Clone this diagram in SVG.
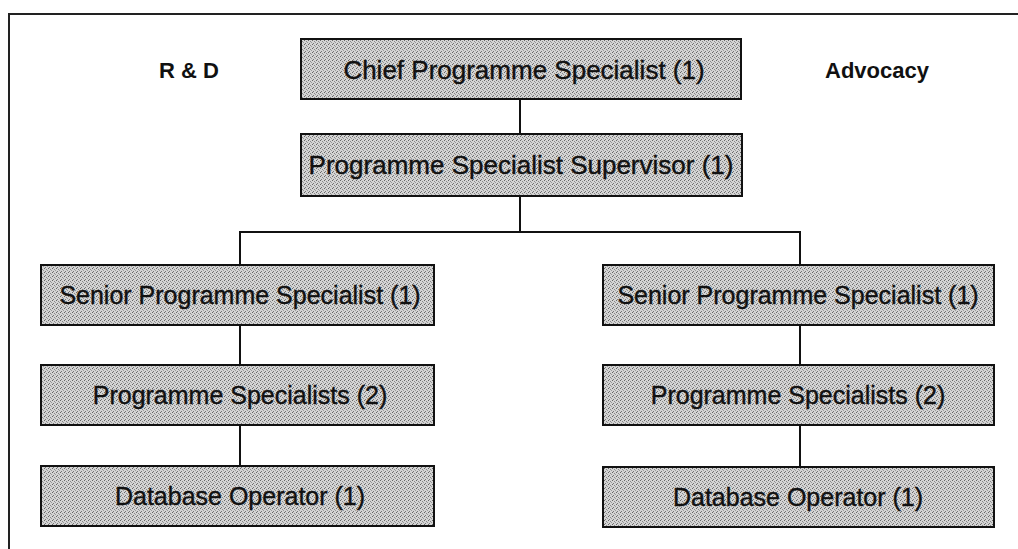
<svg xmlns="http://www.w3.org/2000/svg" width="1018" height="549" viewBox="0 0 1018 549">
  <defs>
    <pattern id="stip" width="4" height="4" patternUnits="userSpaceOnUse">
      <rect width="4" height="4" fill="#d4d4d4"/>
      <rect x="0" y="0" width="1" height="1" fill="#666"/>
      <rect x="2" y="1" width="1" height="1" fill="#888"/>
      <rect x="1" y="3" width="1" height="1" fill="#777"/>
      <rect x="3" y="2" width="1" height="1" fill="#999"/>
    </pattern>
  </defs>
  <style>
    .box { fill: url(#stip); stroke: #111; stroke-width: 2; }
    .t { font-family: "Liberation Sans", Arial, sans-serif; fill: #111; stroke: #111; stroke-width: 0.4; text-anchor: middle; }
    .t1 { font-size: 26px; }
    .t2 { font-size: 25px; }
    .lbl { font-family: "Liberation Sans", Arial, sans-serif; font-weight: bold; font-size: 22px; fill: #111; text-anchor: middle; }
    .ln { stroke: #111; stroke-width: 2; fill: none; }
    .frame { stroke: #222; stroke-width: 2; fill: none; }
  </style>
  <rect width="1018" height="549" fill="#ffffff"/>
  <g id="frame">
    <path class="frame" d="M9,549 V14 H1018"/>
  </g>
  <g id="labels">
    <text class="lbl" x="189" y="78">R &amp; D</text>
    <text class="lbl" x="877" y="78">Advocacy</text>
  </g>
  <g id="connectors">
    <path class="ln" d="M520,99 V134"/>
    <path class="ln" d="M520,196 V232"/>
    <path class="ln" d="M240,265 V232 H800 V265"/>
    <path class="ln" d="M240,325 V365"/>
    <path class="ln" d="M240,425 V466"/>
    <path class="ln" d="M800,325 V365"/>
    <path class="ln" d="M800,425 V467"/>
  </g>
  <g id="chief">
    <rect class="box" x="301" y="39" width="440" height="60"/>
    <text class="t t1" x="524" y="79">Chief Programme Specialist (1)</text>
  </g>
  <g id="supervisor">
    <rect class="box" x="301" y="134" width="441" height="62"/>
    <text class="t t1" x="521" y="174">Programme Specialist Supervisor (1)</text>
  </g>
  <g id="rd-senior">
    <rect class="box" x="41" y="265" width="393" height="60"/>
    <text class="t t2" x="240" y="304">Senior Programme Specialist (1)</text>
  </g>
  <g id="rd-specialists">
    <rect class="box" x="41" y="365" width="393" height="60"/>
    <text class="t t2" x="240" y="404">Programme Specialists (2)</text>
  </g>
  <g id="rd-database">
    <rect class="box" x="41" y="466" width="393" height="60"/>
    <text class="t t2" x="240" y="505">Database Operator (1)</text>
  </g>
  <g id="adv-senior">
    <rect class="box" x="603" y="265" width="391" height="60"/>
    <text class="t t2" x="798" y="304">Senior Programme Specialist (1)</text>
  </g>
  <g id="adv-specialists">
    <rect class="box" x="603" y="365" width="391" height="60"/>
    <text class="t t2" x="798" y="404">Programme Specialists (2)</text>
  </g>
  <g id="adv-database">
    <rect class="box" x="603" y="467" width="391" height="60"/>
    <text class="t t2" x="798" y="506">Database Operator (1)</text>
  </g>
</svg>
